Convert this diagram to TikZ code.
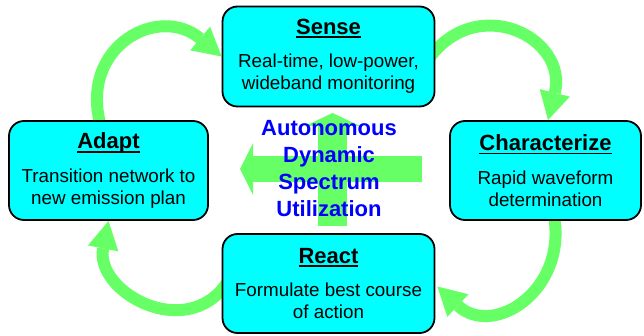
\documentclass[tikz,border=0pt]{standalone}
\usepackage{fontspec}
\setmainfont{Liberation Sans}
\usetikzlibrary{arrows.meta}
\usetikzlibrary{backgrounds}

\definecolor{boxcyan}{RGB}{0,255,255}
\definecolor{loopgreen}{RGB}{102,255,102}
\definecolor{hubblue}{RGB}{0,0,255}

% bold underlined box title
\newsavebox{\headbox}
\newcommand{\boxhead}[1]{%
  \sbox{\headbox}{\fontsize{22}{26}\selectfont\bfseries #1}%
  \rlap{\rule[-3.8pt]{\wd\headbox}{1.8pt}}\usebox{\headbox}}

\begin{document}
\begin{tikzpicture}[x=1pt, y=1pt,
    stagebox/.style={draw=black, line width=1.8pt, fill=boxcyan,
      rounded corners=15pt, align=center, minimum height=99pt, inner sep=0pt,
      font=\fontsize{18.8}{22}\selectfont},
    cyclearrow/.style={draw=loopgreen, line width=12pt,
      -{Triangle[width=31pt, length=28pt, line width=0pt]}},
    bigarrow/.style={draw=loopgreen,
      -{Triangle[width=#1, length=13pt, line width=0pt]}}]
    \useasboundingbox (0,0) rectangle (644,-336);

    % the four stages
    \node[stagebox, minimum width=212pt, minimum height=100pt] (sense) at (328.5,-56.5)
      {\boxhead{Sense}\\[11.5pt]Real-time, low-power,\\wideband monitoring};
    \node[stagebox, minimum width=191pt] (characterize) at (545.5,-170.5)
      {\boxhead{Characterize}\\[11.5pt]Rapid waveform\\determination};
    \node[stagebox, minimum width=212pt] (react) at (328.5,-283.5)
      {\boxhead{React}\\[11.5pt]Formulate best course\\of action};
    \node[stagebox, minimum width=199pt] (adapt) at (108.5,-170.5)
      {\boxhead{Adapt}\\[11.5pt]Transition network to\\new emission plan};

    % centre label
    \node[font=\fontsize{22}{27}\selectfont\bfseries, text=hubblue, align=center]
      (dsa) at (329,-169) {Autonomous\\Dynamic\\Spectrum\\Utilization};

    \begin{scope}[on background layer]
      % cycle arrows
      \draw[cyclearrow] ([xshift=-8pt,yshift=-5pt]adapt.north)
        to[out=105, in=140, out distance=82pt, in distance=82pt] (sense.west);
      \draw[cyclearrow] ([xshift=-8pt,yshift=-4pt]sense.east)
        to[out=55, in=76, out distance=85pt, in distance=85pt]
        ([xshift=2.5pt]characterize.north);
      \draw[cyclearrow] ([xshift=8.5pt,yshift=5pt]characterize.south)
        to[out=-80, in=-43, out distance=76pt, in distance=76pt]
        ([xshift=2pt,yshift=-3pt]react.east);
      \draw[cyclearrow] ([xshift=5pt]react.west)
        to[out=-125, in=-101, out distance=72pt, in distance=72pt] (adapt.south);

      % hub arrows
      \draw[bigarrow=55pt, line width=29pt] (332.5,-226) -- (332.5,-113);
      \draw[bigarrow=52pt, line width=26pt] (422,-169) -- (240,-169);
    \end{scope}
\end{tikzpicture}
\end{document}
